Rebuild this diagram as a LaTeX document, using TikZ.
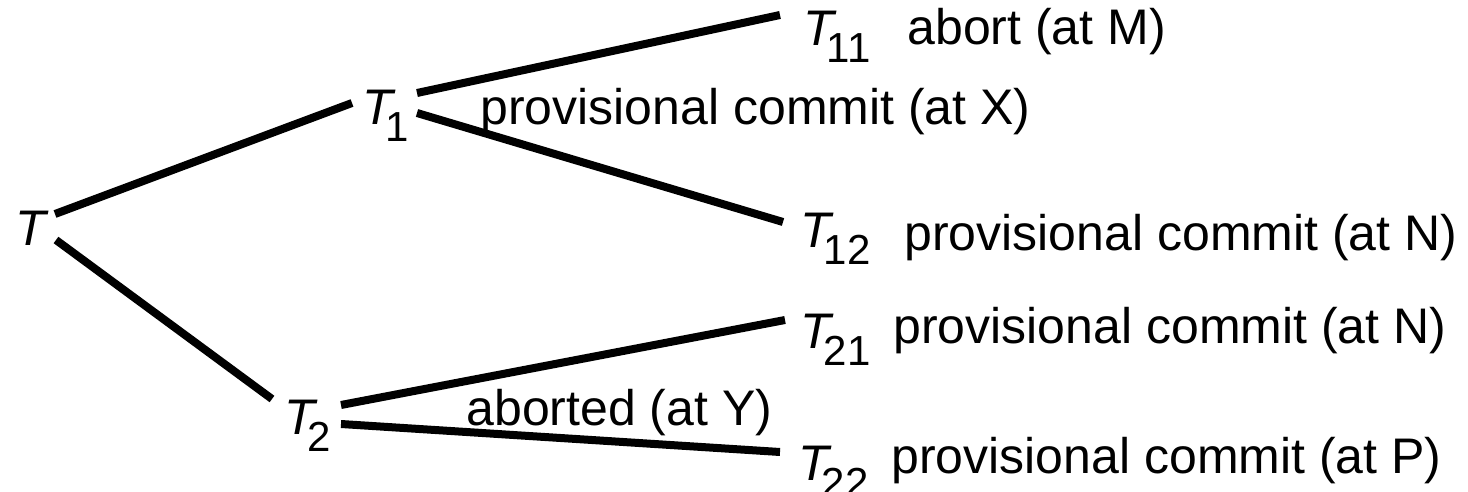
\documentclass[tikz,border=0pt]{standalone}
\usepackage{fontspec}
\setmainfont{Liberation Sans}

\newcommand{\tsub}[1]{\textit{T}\kern-5pt\raisebox{-8.5pt}{\fontsize{21pt}{25pt}\selectfont #1}}

\tikzset{
    trans/.style={anchor=base west, inner sep=0pt},
    status/.style={anchor=base west, inner sep=0pt},
    branch/.style={line width=4pt}
}

\begin{document}
\begin{tikzpicture}[x=0.5pt, y=-0.5pt, font=\fontsize{25pt}{30pt}\selectfont]
    \useasboundingbox (0,0) rectangle (1468,492);

    % the transactions (placed at the left end of their baseline)
    \node[trans] (T) at (15,245) {\textit{T}};
    \node[trans] (T1) at (362,125) {\tsub{1}};
    \node[trans] (T2) at (284,434) {\tsub{2}};
    \node[trans] (T11) at (803,46) {\tsub{11}};
    \node[trans] (T12) at (800,248) {\tsub{12}};
    \node[trans] (T21) at (800,348) {\tsub{21}};
    \node[trans] (T22) at (798,480) {\tsub{22}};

    % the texts
    \node[status] (s1) at (480,125) {provisional commit (at X)};
    \node[status] (s2) at (466,425) {aborted (at Y)};
    \node[status] (s11) at (907,45) {abort (at M)};
    \node[status] (s12) at (904,250) {provisional commit (at N)};
    \node[status] (s21) at (893,343) {provisional commit (at N)};
    \node[status] (s22) at (891,473) {provisional commit (at P)};

    % draw the branches of the tree
    \draw[branch] ([shift={(40,-31)}]T.base west) -- ([shift={(-10,-22)}]T1.base west);
    \draw[branch] ([shift={(41,-5)}]T.base west) -- ([shift={(-12,-35)}]T2.base west);
    \draw[branch] ([shift={(55,-32)}]T1.base west) -- ([shift={(-23,-31)}]T11.base west);
    \draw[branch] ([shift={(55,-12)}]T1.base west) -- ([shift={(-17,-26)}]T12.base west);
    \draw[branch] ([shift={(57,-29)}]T2.base west) -- ([shift={(-15,-28)}]T21.base west);
    \draw[branch] ([shift={(57,-10)}]T2.base west) -- ([shift={(-18,-28)}]T22.base west);

\end{tikzpicture}
\end{document}
